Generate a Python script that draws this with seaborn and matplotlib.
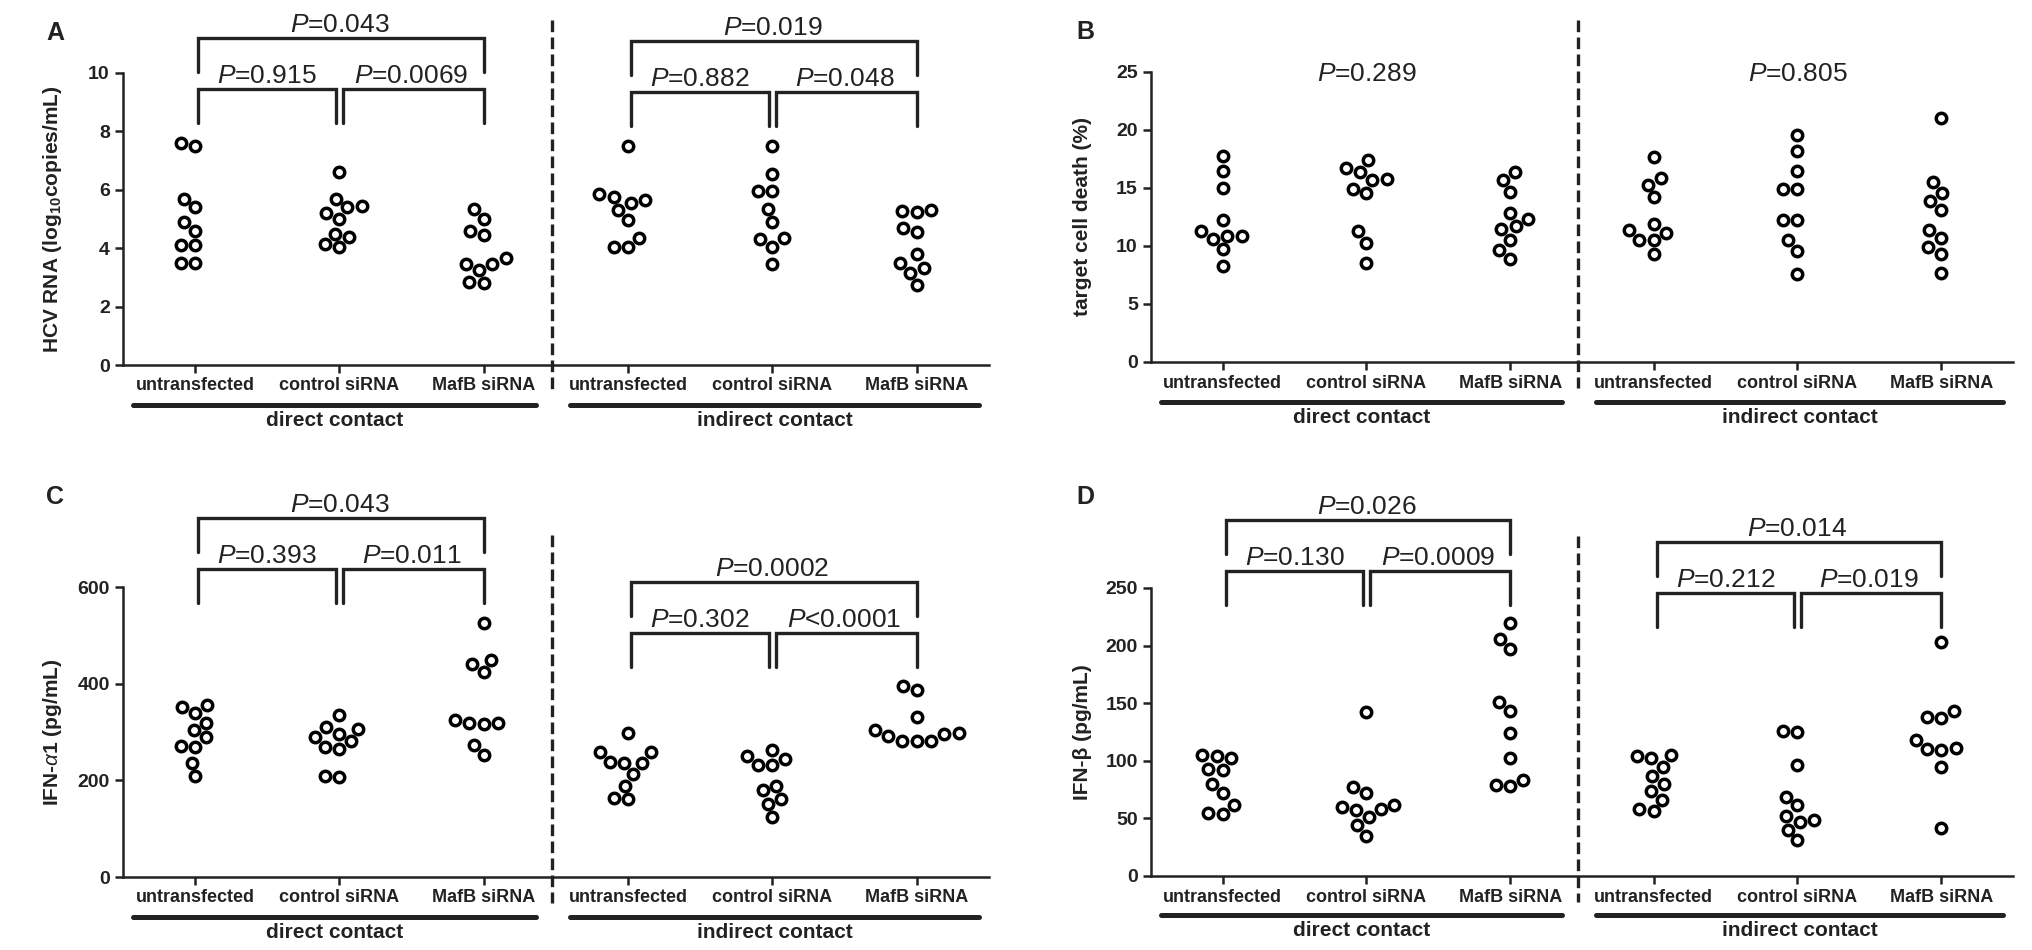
import numpy as np
import pandas as pd
import matplotlib
matplotlib.use("Agg")
import matplotlib.pyplot as plt
import seaborn as sns

# groups and conditions
groups = ["untransfected", "control siRNA", "MafB siRNA"]
contacts = ["direct contact", "indirect contact"]

# A: HCV RNA (log10 copies/mL), one list per group
hcv_direct = [[7.5, 7.6, 5.7, 5.4, 4.9, 4.6, 4.1, 4.1, 3.5, 3.5],
              [6.6, 5.7, 5.45, 5.4, 5.2, 5.0, 4.5, 4.4, 4.15, 4.05],
              [5.35, 5.0, 4.6, 4.45, 3.65, 3.45, 3.45, 3.25, 2.85, 2.8]]
hcv_indirect = [[7.5, 5.85, 5.75, 5.65, 5.55, 5.3, 4.95, 4.35, 4.05, 4.05],
                [7.5, 6.55, 5.95, 5.95, 5.35, 4.9, 4.35, 4.3, 4.05, 3.45],
                [5.3, 5.28, 5.25, 4.68, 4.56, 3.8, 3.5, 3.33, 3.16, 2.74]]

# B: target cell death (%)
death_direct = [[17.8, 16.5, 15.0, 12.2, 11.3, 10.9, 10.9, 10.6, 9.7, 8.3],
                [17.4, 16.7, 16.4, 15.8, 15.7, 14.95, 14.6, 11.3, 10.3, 8.5],
                [16.4, 15.7, 14.65, 12.85, 12.3, 11.7, 11.5, 10.55, 9.65, 8.9]]
death_indirect = [[17.7, 15.9, 15.3, 14.2, 11.9, 11.4, 11.1, 10.55, 10.5, 9.3],
                  [19.6, 18.2, 16.5, 14.9, 14.9, 12.2, 12.2, 10.5, 9.6, 7.6],
                  [21.0, 15.5, 14.6, 13.9, 13.1, 11.4, 10.7, 9.9, 9.35, 7.7]]

# C: IFN-alpha1 (pg/mL)
ifna_direct = [[356, 351, 340, 319, 305, 289, 272, 269, 236, 208],
               [336, 311, 307, 296, 290, 282, 269, 265, 210, 206],
               [525, 449, 440, 424, 324, 319, 318, 316, 274, 253]]
ifna_indirect = [[298, 258, 258, 237, 236, 236, 213, 189, 163, 161],
                 [262, 250, 245, 232, 231, 189, 179, 162, 152, 125],
                 [396, 386, 331, 304, 298, 295, 291, 282, 282, 281]]

# D: IFN-beta (pg/mL)
ifnb_direct = [[105, 104, 102, 93, 92, 80, 72, 62, 55, 54],
               [142, 77, 72, 62, 60, 58, 57, 51, 44, 35],
               [220, 206, 197, 151, 143, 124, 102, 83, 79, 78]]
ifnb_indirect = [[105, 104, 102, 95, 87, 80, 74, 66, 58, 56],
                 [126, 125, 96, 69, 62, 52, 49, 47, 40, 31],
                 [203, 143, 138, 137, 118, 111, 110, 109, 95, 42]]

# P values: [untr vs control, control vs MafB, untr vs MafB]
p_hcv = [["0.915", "0.0069", "0.043"], ["0.882", "0.048", "0.019"]]
p_death = ["0.289", "0.805"]
p_ifna = [["0.393", "0.011", "0.043"], ["0.302", "<0.0001", "0.0002"]]
p_ifnb = [["0.130", "0.0009", "0.026"], ["0.212", "0.019", "0.014"]]

sns.set_style("ticks")
plt.rcParams["font.family"] = ["Liberation Sans", "DejaVu Sans"]
plt.rcParams["mathtext.fontset"] = "custom"
plt.rcParams["mathtext.rm"] = "Liberation Sans"
plt.rcParams["mathtext.it"] = "Liberation Sans:italic"
plt.rcParams["mathtext.bf"] = "Liberation Sans:bold"

ink = "#222222"
W, H = 2033, 950
fig = plt.figure(figsize=(W / 100, H / 100), dpi=100)

order = [c + "|" + g for c in contacts for g in groups]


def make_df(direct, indirect):
    rows = []
    for contact, sets in zip(contacts, [direct, indirect]):
        for g, vals in zip(groups, sets):
            for v in vals:
                rows.append({"key": contact + "|" + g, "value": v})
    return pd.DataFrame(rows)


def ptext(s):
    if s.startswith("<"):
        return r"$P$" + s
    return r"$P$=" + s


def brackets(ax, first, base, ppu, labels):
    i, j, k = first, first + 1, first + 2
    leg = 34 / ppu
    y1 = base + leg
    kw = dict(color=ink, lw=2.4, clip_on=False, solid_joinstyle="miter")
    ax.plot([i + 0.02, i + 0.02, j - 0.025, j - 0.025], [base, y1, y1, base], **kw)
    ax.plot([j + 0.025, j + 0.025, k, k], [base, y1, y1, base], **kw)
    ylow = y1 + 17 / ppu
    y2 = y1 + 51 / ppu
    ax.plot([i + 0.02, i + 0.02, k, k], [ylow, y2, y2, ylow], **kw)
    tkw = dict(ha="center", va="baseline", fontsize=19, color=ink, clip_on=False)
    ax.text((i + j) / 2, y1 + 6 / ppu, ptext(labels[0]), **tkw)
    ax.text((j + k) / 2, y1 + 6 / ppu, ptext(labels[1]), **tkw)
    ax.text((i + k) / 2, y2 + 6 / ppu, ptext(labels[2]), **tkw)


def panel(box, df, ymax, yticks, ylabel, letter, letter_xy):
    left, top, right, bottom = box
    ax = fig.add_axes([left / W, 1 - bottom / H, (right - left) / W, (bottom - top) / H])
    sns.swarmplot(data=df, x="key", y="value", order=order, color="white",
                  edgecolor="black", linewidth=2.5, size=7.5, ax=ax)
    ax.set_xlim(-0.5, 5.5)
    ax.set_ylim(0, ymax)
    ax.set_yticks(yticks)
    ax.set_xticks(range(6))
    ax.set_xticklabels(groups * 2, fontsize=13, fontweight="bold",
                       family=["Liberation Sans Narrow", "Liberation Sans"])
    for t in ax.get_yticklabels():
        t.set_fontweight("bold")
        t.set_fontsize(14)
    ax.set_xlabel("")
    ax.set_ylabel(ylabel, fontsize=15, fontweight="bold", color=ink)
    ax.yaxis.set_label_coords(-0.068, 0.5)
    sns.despine(ax=ax)
    for s in ["left", "bottom"]:
        ax.spines[s].set_linewidth(1.8)
        ax.spines[s].set_color(ink)
    ax.tick_params(axis="both", width=1.8, length=6, color=ink, labelcolor=ink)
    ax.tick_params(axis="x", pad=3)

    # separator between direct and indirect contact
    ax.plot([2.47, 2.47], [1.18, -0.09], transform=ax.get_xaxis_transform(),
            ls=(0, (3.5, 1.6)), lw=2.4, color=ink, clip_on=False)
    # group bars and labels under the ticks
    for x0, x1, name in [(-0.43, 2.36, contacts[0]), (2.6, 5.43, contacts[1])]:
        ax.plot([x0, x1], [-0.137, -0.137], transform=ax.get_xaxis_transform(),
                lw=3.6, color=ink, solid_capstyle="round", clip_on=False)
        ax.text((x0 + x1) / 2, -0.19, name, transform=ax.get_xaxis_transform(),
                ha="center", va="center", fontsize=15, fontweight="bold", color=ink)
    fig.text(letter_xy[0] / W, 1 - letter_xy[1] / H, letter, fontsize=18,
             fontweight="bold", ha="center", va="center", color=ink)
    ppu = (bottom - top) / ymax
    return ax, ppu


# A
ax, ppu = panel((123, 73, 989, 365), make_df(hcv_direct, hcv_indirect), 10,
                [0, 2, 4, 6, 8, 10], r"HCV RNA (log$_{\mathbf{10}}$copies/mL)", "A", (55, 33))
brackets(ax, 0, 8.3, ppu, p_hcv[0])
brackets(ax, 3, 8.2, ppu, p_hcv[1])

# B
ax, ppu = panel((1151, 72, 2013, 362), make_df(death_direct, death_indirect), 25,
                [0, 5, 10, 15, 20, 25], "target cell death (%)", "B", (1085, 32))
for x, p in zip([1, 4], p_death):
    ax.text(x, 25 - 9 / ppu, ptext(p), ha="center", va="baseline", fontsize=19,
            color=ink, clip_on=False)

# C
ax, ppu = panel((123, 587, 989, 877), make_df(ifna_direct, ifna_indirect), 600,
                [0, 200, 400, 600], r"IFN-$\alpha$1 (pg/mL)", "C", (55, 497))
brackets(ax, 0, 567, ppu, p_ifna[0])
brackets(ax, 3, 434, ppu, p_ifna[1])

# D
ax, ppu = panel((1151, 588, 2013, 876), make_df(ifnb_direct, ifnb_indirect), 250,
                [0, 50, 100, 150, 200, 250], "IFN-β (pg/mL)", "D", (1085, 497))
brackets(ax, 0, 235, ppu, p_ifnb[0])
brackets(ax, 3, 216, ppu, p_ifnb[1])

fig.savefig("out.png", dpi=100)
